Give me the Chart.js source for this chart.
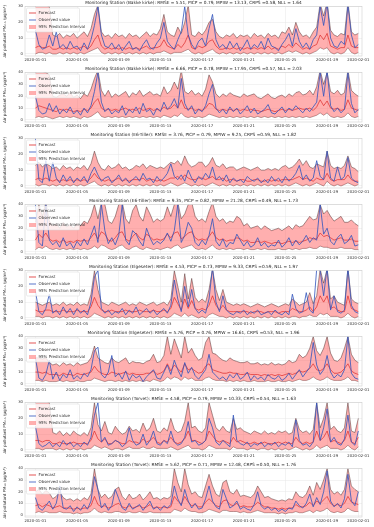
<!DOCTYPE html>
<html>
<head>
<meta charset="utf-8">
<script src="https://cdn.jsdelivr.net/npm/chart.js@4.4.1/dist/chart.umd.min.js"></script>
<style>
  html, body { margin: 0; padding: 0; background: #fff; }
  canvas { display: block; }
</style>
</head>
<body>
<div id="charts"></div>
<script>
// 8-hourly series, 2020-01-01 00:00 .. 2020-02-01 00:00
const stepHours = 8;
const tickDays = [0, 4, 8, 12, 16, 20, 24, 28, 31];
const tickLabels = ['2020-01-01', '2020-01-05', '2020-01-09', '2020-01-13', '2020-01-17',
  '2020-01-21', '2020-01-25', '2020-01-29', '2020-02-01'];

const stations = ['Bakke kirke', 'Bakke kirke', 'E6-Tiller', 'E6-Tiller', 'Elgeseter', 'Elgeseter', 'Torvet', 'Torvet'];
const pollutants = ['PM₂.₅', 'PM₁₀', 'PM₂.₅', 'PM₁₀', 'PM₂.₅', 'PM₁₀', 'PM₂.₅', 'PM₁₀'];
const metrics = [
  'RMSE = 5.51, PICP = 0.79, MPIW = 13.13, CRPS =0.58, NLL = 1.64',
  'RMSE = 6.66, PICP = 0.78, MPIW = 17.95, CRPS =0.57, NLL = 2.03',
  'RMSE = 3.76, PICP = 0.79, MPIW = 9.25, CRPS =0.59, NLL = 1.82',
  'RMSE = 9.35, PICP = 0.82, MPIW = 21.28, CRPS =0.49, NLL = 1.73',
  'RMSE = 4.53, PICP = 0.73, MPIW = 9.33, CRPS =0.59, NLL = 1.97',
  'RMSE = 5.76, PICP = 0.76, MPIW = 16.61, CRPS =0.53, NLL = 1.96',
  'RMSE = 4.58, PICP = 0.79, MPIW = 10.33, CRPS =0.54, NLL = 1.63',
  'RMSE = 5.62, PICP = 0.71, MPIW = 12.48, CRPS =0.50, NLL = 1.76'
];
const yTop = [30, 40, 30, 40, 30, 40, 30, 40];

// --- Bakke kirke PM2.5
const obs1 = [15,6,3, 4,12,5, 14,4,6, 3,8,4,
  5,2,7, 3,9,18, 30,12,5, 4,7,3,
  6,2,5, 8,3,4, 2,6,9, 4,3,7,
  10,20,8, 5,3,9, 14,30,12, 6,3,8,
  10,5,16, 25,9,4, 6,3,8, 4,7,2,
  5,9,3, 6,4,8, 3,10,5, 4,2,6,
  9,13,5, 16,8,4, 7,3,9, 12,30,18,
  32,10,5, 4,8,6, 31,12,4, 6];
const fc1 = [4,5,4, 4,5,3, 3,4,3, 4,3,4,
  3,4,5, 3,5,9, 12,5,3, 4,3,4,
  3,4,3, 4,3,4, 3,4,5, 3,4,4,
  5,9,5, 4,3,6, 4,7,12, 4,3,5,
  4,5,8, 9,5,3, 3,4,3, 4,3,4,
  3,4,3, 4,3,4, 3,5,3, 4,3,5,
  4,6,4, 7,5,3, 4,3,5, 6,12,9,
  13,5,4, 3,4,4, 12,5,4, 4];
const lo1 = [0,1,1, 0,1,0, 0,1,0, 1,0,1,
  0,1,0, 1,2,3, 4,1,0, 1,0,1,
  0,1,0, 1,0,1, 0,1,0, 1,0,1,
  1,2,1, 0,1,1, 1,2,3, 1,0,1,
  0,1,2, 3,1,0, 1,0,1, 0,1,0,
  1,0,1, 0,1,0, 1,0,1, 0,1,0,
  1,2,1, 2,1,0, 1,0,1, 2,4,3,
  4,1,0, 1,0,1, 4,1,0, 1];
const hi1 = [30,32,31, 31,30,12, 11,13,10, 12,11,13,
  10,12,14, 11,16,25, 31,14,11, 12,10,13,
  11,12,10, 13,11,12, 10,12,14, 11,13,12,
  16,25,14, 12,11,17, 13,20,31, 12,11,14,
  12,15,20, 22,14,11, 10,12,11, 13,10,12,
  11,12,10, 13,11,12, 10,13,11, 12,10,14,
  13,17,12, 20,14,11, 12,10,14, 17,32,24,
  33,15,12, 11,13,12, 33,14,12, 13];

// --- Bakke kirke PM10
const obs2 = [20,8,5, 6,14,7, 12,5,9, 6,11,5,
  8,4,10, 6,12,24, 40,15,7, 10,5,8,
  6,12,4, 9,6,11, 5,14,7, 9,4,10,
  7,15,9, 12,18,10, 35,14,8, 12,5,9,
  7,12,22, 30,10,6, 9,5,11, 7,10,5,
  8,12,6, 10,5,7, 9,13,6, 5,8,11,
  6,10,8, 12,9,6, 10,7,11, 15,40,20,
  42,12,7, 10,6,9, 40,14,6, 9];
const fc2 = [10,12,11, 10,9,8, 7,9,8, 9,8,7,
  8,7,9, 8,10,15, 18,10,8, 9,8,9,
  8,9,10, 8,9,8, 10,8,9, 10,8,9,
  8,11,9, 10,13,10, 17,10,9, 10,8,9,
  8,10,14, 13,9,8, 9,8,9, 8,9,8,
  9,8,9, 8,8,7, 8,9,8, 7,8,9,
  8,9,8, 9,10,9, 9,10,8, 11,17,12,
  16,10,9, 10,8,9, 17,10,9, 8];
const lo2 = [2,3,2, 3,2,1, 2,3,2, 3,2,3,
  2,1,3, 2,3,5, 7,3,2, 3,2,3,
  2,3,2, 3,2,3, 2,3,2, 3,2,3,
  2,4,3, 2,4,3, 6,3,2, 3,2,3,
  2,3,5, 4,3,2, 3,2,3, 2,3,2,
  3,2,3, 2,3,2, 3,2,3, 2,3,2,
  3,2,3, 2,3,2, 3,2,3, 4,6,4,
  6,3,2, 3,2,3, 6,3,2, 3];
const hi2 = [40,42,41, 40,38,20, 19,21,22, 20,23,19,
  21,18,22, 20,26,35, 42,25,20, 25,19,22,
  20,22,24, 19,23,21, 25,20,22, 24,21,22,
  20,28,22, 25,32,26, 42,24,22, 25,21,23,
  20,26,38, 32,22,19, 22,20,23, 21,20,19,
  22,20,21, 22,19,18, 20,22,19, 18,20,21,
  19,22,20, 23,24,21, 22,25,21, 28,42,30,
  40,24,22, 25,21,23, 42,25,22, 20];

// --- E6-Tiller PM2.5
const obs3 = [30,4,2, 16,3,15, 5,2,7, 3,6,2,
  5,3,6, 2,8,12, 7,3,5, 6,2,4,
  7,3,5, 2,4,6, 3,8,4, 5,2,6,
  3,5,8, 14,6,4, 7,3,10, 5,2,6,
  4,8,5, 12,4,6, 3,7,2, 5,3,4,
  2,6,4, 3,5,2, 4,2,6, 3,5,2,
  6,3,5, 8,13,4, 7,3,5, 16,6,4,
  22,5,3, 12,4,6, 18,5,3, 2];
const fc3 = [4,5,4, 5,4,3, 4,3,4, 3,4,3,
  4,3,4, 3,5,8, 5,4,3, 4,3,4,
  5,3,4, 3,4,4, 4,5,3, 4,4,3,
  4,3,4, 5,5,6, 4,7,5, 4,4,5,
  5,4,5, 6,4,4, 5,3,4, 4,3,4,
  4,3,3, 4,4,3, 3,4,3, 4,3,4,
  4,4,4, 5,6,4, 5,4,3, 5,4,4,
  8,4,3, 4,4,4, 7,4,3, 3];
const lo3 = [1,0,1, 1,0,1, 0,1,0, 1,0,1,
  0,1,0, 1,2,3, 1,0,1, 0,1,0,
  1,0,1, 0,1,0, 1,0,1, 0,1,0,
  1,0,1, 2,1,0, 1,2,1, 0,1,0,
  1,0,1, 2,1,0, 1,0,1, 0,1,0,
  1,0,1, 0,1,0, 1,0,1, 0,1,0,
  1,0,1, 2,1,0, 1,0,1, 2,1,0,
  3,1,0, 1,0,1, 2,1,0, 1];
const hi3 = [13,15,12, 14,13,11, 12,10,13, 11,12,10,
  12,11,13, 10,14,22, 15,11,10, 13,11,12,
  14,11,12, 10,11,13, 12,14,11, 13,12,11,
  12,11,13, 15,14,16, 13,19,14, 12,13,15,
  15,12,14, 18,13,12, 14,11,12, 12,10,11,
  12,11,10, 11,12,10, 10,11,10, 11,10,12,
  13,11,12, 14,17,13, 16,12,11, 14,13,12,
  22,13,11, 12,11,13, 19,12,11, 9];

// --- E6-Tiller PM10
const obs4 = [40,8,5, 40,10,6, 9,4,12, 5,8,3,
  9,5,11, 6,14,22, 8,40,18, 7,12,6,
  14,40,10, 6,18,15, 9,5,20, 12,6,9,
  7,10,16, 9,18,40, 8,14,25, 20,8,5,
  10,6,14, 28,9,5, 11,4,8, 7,15,10,
  5,9,4, 6,12,5, 8,4,6, 5,10,4,
  7,12,5, 10,6,9, 14,8,12, 10,40,15,
  20,9,6, 12,15,7, 9,14,5, 6];
const fc4 = [10,15,12, 16,11,9, 10,8,10, 8,9,8,
  10,9,10, 9,12,16, 11,17,15, 10,9,12,
  16,17,11, 9,13,16, 12,10,15, 13,10,11,
  10,11,15, 12,16,17, 11,13,16, 17,12,10,
  11,10,13, 17,12,10, 11,9,10, 10,12,11,
  9,10,8, 8,9,8, 9,8,7, 8,8,7,
  8,9,8, 9,8,9, 10,12,11, 11,16,13,
  14,12,10, 11,12,10, 10,11,9, 9];
const lo4 = [2,4,3, 5,3,2, 3,2,3, 2,3,2,
  3,2,3, 2,3,5, 3,6,5, 3,2,3,
  5,6,3, 2,4,5, 3,2,4, 3,2,3,
  2,3,4, 3,5,6, 3,4,5, 6,3,2,
  3,2,4, 6,3,2, 3,2,3, 2,3,3,
  2,3,2, 2,3,2, 3,2,2, 2,3,2,
  2,3,2, 3,2,3, 3,4,3, 3,5,4,
  4,3,3, 3,4,3, 3,3,2, 2];
const hi4 = [25,40,30, 42,26,22, 24,20,25, 21,23,20,
  24,22,26, 24,30,40, 28,42,40, 26,24,30,
  40,42,28, 24,35,40, 30,26,38, 32,25,28,
  26,28,38, 30,40,42, 28,32,40, 42,30,26,
  28,25,34, 42,30,26, 28,24,26, 25,30,28,
  22,24,20, 21,22,19, 22,20,18, 19,20,18,
  20,22,19, 23,21,22, 26,30,27, 28,40,32,
  35,30,26, 28,30,25, 25,27,24, 22];

// --- Elgeseter PM2.5
const obs5 = [17,4,2, 6,15,3, 5,2,7, 3,6,2,
  6,3,5, 2,10,26, 30,6,3, 5,2,4,
  3,6,2, 5,3,7, 2,4,6, 3,5,2,
  4,6,3, 8,24,12, 4,20,7, 18,6,3,
  5,3,12, 32,10,4, 14,5,3, 2,4,3,
  5,2,4, 3,5,2, 3,4,2, 5,3,2,
  4,2,15, 6,3,4, 16,5,3, 31,30,14,
  32,5,14, 4,3,5, 32,8,4, 3];
const fc5 = [5,4,4, 5,5,4, 4,4,5, 4,4,4,
  5,4,4, 4,7,13, 8,5,4, 4,5,4,
  4,4,5, 4,4,4, 5,4,4, 4,5,4,
  4,5,4, 6,13,9, 5,12,6, 11,6,5,
  6,5,8, 14,8,5, 8,5,4, 4,4,4,
  4,4,3, 4,4,4, 3,4,4, 4,3,4,
  4,4,6, 5,4,4, 5,7,4, 7,14,10,
  14,6,7, 5,4,4, 14,6,5, 4];
const lo5 = [1,1,0, 1,1,0, 1,0,1, 0,1,0,
  1,0,1, 0,1,3, 2,1,0, 1,0,1,
  0,1,0, 1,0,1, 0,1,0, 1,0,1,
  0,1,0, 1,3,2, 1,3,1, 2,1,0,
  1,0,2, 3,2,1, 1,0,1, 0,1,0,
  1,0,1, 0,1,0, 1,0,1, 0,1,0,
  1,0,1, 1,0,1, 1,2,1, 1,3,2,
  3,1,1, 1,0,1, 3,1,0, 1];
const hi5 = [10,9,8, 9,10,8, 9,8,10, 8,9,8,
  10,8,9, 8,15,30, 18,10,9, 8,10,9,
  8,9,10, 8,9,8, 10,9,8, 9,10,8,
  9,10,8, 12,30,20, 10,28,12, 25,13,10,
  12,10,18, 31,18,11, 18,10,9, 8,9,8,
  9,8,7, 8,9,8, 7,8,9, 8,7,8,
  9,8,12, 10,8,9, 10,16,9, 14,31,22,
  31,12,14, 10,9,8, 31,12,10, 9];

// --- Elgeseter PM10
const obs6 = [22,5,3, 8,20,4, 10,3,8, 5,12,4,
  7,4,9, 6,12,28, 31,8,5, 10,24,6,
  9,4,11, 3,8,5, 7,2,6, 9,12,5,
  4,10,16, 8,20,12, 6,18,9, 14,7,4,
  8,12,25, 10,7,4, 6,3,8, 5,9,4,
  6,10,3, 7,4,6, 3,8,5, 4,7,3,
  5,9,4, 8,12,6, 10,14,35, 16,8,12,
  24,10,5, 8,6,12, 40,9,5, 4];
const fc6 = [10,10,9, 10,8,8, 8,7,9, 8,8,7,
  9,8,8, 9,10,15, 11,9,8, 8,10,9,
  8,9,10, 8,9,8, 8,8,9, 9,11,8,
  9,11,17, 11,16,13, 10,17,12, 13,11,9,
  10,15,17, 12,11,10, 9,9,10, 9,9,8,
  8,9,8, 8,8,7, 8,7,8, 7,8,7,
  8,9,8, 9,11,10, 11,13,17, 12,11,13,
  17,12,9, 9,10,13, 17,11,9, 8];
const lo6 = [3,3,2, 3,2,2, 2,3,2, 3,2,2,
  3,2,2, 3,3,5, 4,3,2, 3,3,2,
  3,2,3, 2,3,2, 3,2,3, 2,4,3,
  2,3,6, 4,6,5, 3,6,4, 5,3,3,
  3,5,6, 4,3,3, 3,2,3, 2,3,2,
  3,2,2, 3,2,2, 2,3,2, 2,3,2,
  2,3,2, 3,4,3, 3,4,6, 4,3,4,
  6,4,3, 3,3,4, 6,3,3, 2];
const hi6 = [22,22,21, 22,18,16, 17,15,18, 16,17,15,
  18,16,17, 18,22,32, 22,20,18, 17,22,19,
  18,20,22, 17,19,18, 18,17,19, 20,25,18,
  19,24,40, 25,38,30, 22,40,26, 30,24,20,
  22,35,40, 26,25,22, 20,19,22, 20,19,18,
  18,19,17, 17,18,16, 17,16,18, 16,17,16,
  17,20,18, 19,25,22, 24,30,40, 28,24,30,
  40,26,20, 19,22,30, 40,25,20, 18];

// --- Torvet PM2.5
const obs7 = [15,4,2, 3,5,2, 4,2,6, 3,5,2,
  4,2,5, 3,8,22, 30,5,8, 3,4,6,
  5,2,4, 14,6,3, 4,10,3, 6,12,4,
  3,6,4, 12,5,3, 4,8,18, 5,6,3,
  4,6,20, 14,5,3, 6,4,2, 22,6,4,
  3,5,2, 4,3,5, 2,4,3, 5,2,4,
  3,5,2, 19,6,3, 4,2,5, 30,6,14,
  26,5,8, 4,3,7, 22,5,3, 12];
const fc7 = [6,6,5, 6,6,4, 4,5,4, 4,4,5,
  4,4,4, 4,6,12, 7,5,7, 4,4,6,
  5,4,4, 6,5,5, 4,7,5, 6,8,5,
  4,6,5, 8,5,4, 5,7,12, 6,6,5,
  4,6,12, 9,6,5, 6,5,4, 8,5,6,
  5,4,4, 5,4,4, 5,4,4, 4,5,4,
  5,4,4, 8,5,4, 5,4,5, 12,6,8,
  12,5,6, 5,4,6, 12,5,4, 8];
const lo7 = [1,1,0, 1,1,1, 0,1,0, 1,0,1,
  0,1,0, 1,1,3, 2,1,2, 1,0,1,
  1,0,1, 2,1,1, 1,2,1, 1,2,1,
  1,1,1, 2,1,0, 1,2,3, 1,1,1,
  0,1,3, 2,1,1, 1,1,0, 2,1,1,
  1,0,1, 1,0,1, 1,0,1, 0,1,0,
  1,0,1, 2,1,0, 1,0,1, 3,1,2,
  3,1,1, 1,0,1, 3,1,0, 2];
const hi7 = [30,32,31, 31,30,11, 10,12,9, 11,9,12,
  10,9,11, 9,14,30, 16,12,18, 11,10,15,
  12,10,11, 15,12,13, 11,17,12, 14,20,12,
  11,14,12, 20,13,11, 12,18,30, 14,15,12,
  11,14,30, 22,14,12, 15,12,11, 20,13,14,
  12,11,10, 12,11,10, 12,10,11, 10,12,11,
  12,10,11, 20,13,11, 12,10,13, 30,14,20,
  30,13,15, 12,11,14, 30,12,11, 20];

// --- Torvet PM10
const obs8 = [15,6,4, 8,12,5, 10,25,6, 5,8,3,
  7,4,9, 5,12,33, 22,6,10, 4,8,22,
  14,6,4, 10,5,7, 9,4,8, 12,5,7,
  4,8,6, 9,25,14, 8,22,12, 6,10,5,
  6,14,25, 12,7,5, 22,14,6, 8,12,5,
  7,5,4, 9,20,8, 5,7,4, 6,3,5,
  3,6,5, 12,8,6, 10,18,7, 15,9,20,
  38,12,7, 10,6,14, 35,12,8, 20];
const fc8 = [8,9,7, 9,8,6, 7,8,6, 6,6,5,
  6,5,6, 6,8,16, 9,7,8, 6,7,9,
  10,7,6, 8,6,7, 8,6,7, 9,6,7,
  6,7,6, 7,16,12, 9,16,11, 8,9,7,
  7,11,14, 11,8,7, 12,13,9, 8,10,7,
  8,7,7, 8,11,9, 7,7,6, 6,5,6,
  5,6,6, 9,7,7, 8,11,8, 12,10,13,
  16,10,8, 9,8,10, 16,11,10, 9];
const lo8 = [2,3,2, 3,2,2, 2,3,2, 2,2,1,
  2,1,2, 2,3,6, 3,2,3, 2,2,3,
  3,2,2, 3,2,2, 3,2,2, 3,2,2,
  2,2,2, 2,5,4, 3,6,4, 3,3,2,
  2,3,5, 4,3,2, 4,4,3, 3,3,2,
  3,2,2, 3,4,3, 2,2,2, 2,1,2,
  1,2,2, 3,2,2, 3,4,2, 4,3,4,
  6,3,2, 3,2,3, 6,4,3, 3];
const hi8 = [20,22,18, 21,19,14, 16,20,15, 13,14,12,
  14,12,15, 13,18,40, 22,15,18, 14,16,22,
  24,16,13, 18,14,15, 18,13,16, 20,14,15,
  13,15,14, 16,40,28, 20,40,26, 18,20,16,
  15,25,35, 25,18,16, 28,30,20, 18,22,16,
  17,16,15, 18,25,20, 15,16,14, 13,12,13,
  12,14,13, 20,16,15, 18,25,17, 28,22,30,
  40,22,18, 20,17,22, 40,25,22, 20];

const observed = [obs1, obs2, obs3, obs4, obs5, obs6, obs7, obs8];
const forecast = [fc1, fc2, fc3, fc4, fc5, fc6, fc7, fc8];
const lower = [lo1, lo2, lo3, lo4, lo5, lo6, lo7, lo8];
const upper = [hi1, hi2, hi3, hi4, hi5, hi6, hi7, hi8];

const FONT = 'DejaVu Sans';
const RED = 'rgba(222,45,45,0.9)';
const BLUE = 'rgba(50,85,190,0.9)';
const PINK = 'rgba(255,95,95,0.5)';
const EDGE = 'rgba(60,30,30,0.75)';
const GRID = '#e6e6e6';

// frame, title and legend drawn over the plot area
const panelDecor = {
  id: 'panelDecor',
  afterDraw(chart, args, opts) {
    const { ctx, chartArea: a } = chart;
    ctx.save();
    ctx.strokeStyle = '#cfcfcf';
    ctx.lineWidth = 0.6;
    ctx.strokeRect(a.left, a.top, a.right - a.left, a.bottom - a.top);

    ctx.fillStyle = '#222';
    ctx.font = `4.3px "${FONT}"`;
    ctx.textAlign = 'center';
    ctx.textBaseline = 'middle';
    ctx.fillText(opts.title, (a.left + a.right) / 2, a.top - 3.3);

    const x = a.left + 1.5, y = a.top + 1.5, w = 53, h = 24;
    ctx.fillStyle = 'rgba(255,255,255,0.8)';
    ctx.strokeStyle = '#d4d4d4';
    ctx.lineWidth = 0.5;
    ctx.beginPath();
    ctx.roundRect(x, y, w, h, 1.2);
    ctx.fill();
    ctx.stroke();

    ctx.textAlign = 'left';
    ctx.font = `4px "${FONT}"`;
    chart.data.datasets.filter(d => d.label).forEach((d, i) => {
      const cy = y + 5 + i * 7;
      if (d.fill) {
        ctx.fillStyle = d.backgroundColor;
        ctx.fillRect(x + 2.5, cy - 2, 7, 4);
      } else {
        ctx.strokeStyle = d.borderColor;
        ctx.lineWidth = 0.9;
        ctx.beginPath();
        ctx.moveTo(x + 2.5, cy);
        ctx.lineTo(x + 9.5, cy);
        ctx.stroke();
      }
      ctx.fillStyle = '#333';
      ctx.fillText(d.label, x + 12, cy + 0.2);
    });
    ctx.restore();
  }
};

function makePanel(k, height) {
  const canvas = document.createElement('canvas');
  canvas.width = 374;
  canvas.height = height;
  document.getElementById('charts').appendChild(canvas);

  const days = observed[k].map((_, i) => i * stepHours / 24);
  const pts = arr => arr.map((v, i) => ({ x: days[i], y: v }));
  const top = yTop[k];
  const yTicks = [];
  for (let v = 0; v <= top; v += 10) yTicks.push(v);

  new Chart(canvas, {
    type: 'line',
    data: {
      datasets: [
        { label: 'Forecast', data: pts(forecast[k]), borderColor: RED, borderWidth: 0.8, order: 2 },
        { label: 'Observed value', data: pts(observed[k]), borderColor: BLUE, borderWidth: 0.9, order: 1 },
        { label: '95% Prediction Interval', data: pts(upper[k]), borderColor: EDGE, borderWidth: 0.6,
          backgroundColor: PINK, fill: '+1', order: 3 },
        { label: '', data: pts(lower[k]), borderColor: EDGE, borderWidth: 0.6, fill: false, order: 4 }
      ]
    },
    options: {
      responsive: false,
      animation: false,
      devicePixelRatio: 1,
      elements: { point: { radius: 0 }, line: { tension: 0 } },
      layout: { padding: { left: 0, right: 12, top: 6.5, bottom: 0 } },
      plugins: {
        legend: { display: false },
        tooltip: { enabled: false },
        panelDecor: { title: `Monitoring Station (${stations[k]}): ${metrics[k]}` }
      },
      scales: {
        x: {
          type: 'linear',
          min: -1,
          max: 31.35,
          afterBuildTicks: s => { s.ticks = tickDays.map(v => ({ value: v })); },
          afterFit: s => { s.height = 10; },
          ticks: {
            callback: (v, i) => tickLabels[i],
            font: { family: FONT, size: 3.8 },
            color: '#333',
            padding: 2.2,
            maxRotation: 0,
            autoSkip: false
          },
          grid: { color: GRID, lineWidth: 0.5, drawTicks: false },
          border: { display: false }
        },
        y: {
          min: -top * 0.043,
          max: top,
          afterBuildTicks: s => { s.ticks = yTicks.map(v => ({ value: v })); },
          afterFit: s => { s.width = 25; },
          ticks: { font: { family: FONT, size: 3.8 }, color: '#333', padding: 2 },
          grid: { color: GRID, lineWidth: 0.5, drawTicks: false },
          border: { display: false },
          title: {
            display: true,
            text: `Air pollutant ${pollutants[k]} (μg/m³)`,
            font: { family: FONT, size: 4 },
            color: '#222',
            padding: { top: 3, bottom: 0 }
          }
        }
      }
    },
    plugins: [panelDecor]
  });
}

for (let k = 0; k < 8; k++) makePanel(k, k < 7 ? 66 : 65);
</script>
</body>
</html>
